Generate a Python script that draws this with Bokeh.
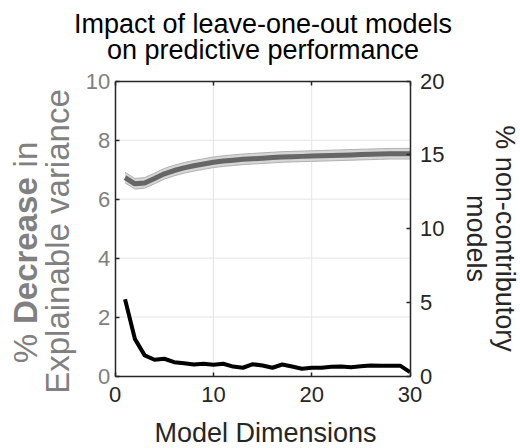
import math
from bokeh.plotting import figure
from bokeh.models import Range1d, LinearAxis, FixedTicker, Label, ColumnDataSource
from bokeh.embed import file_html
from bokeh.resources import INLINE

# ---- data ----
dims = list(range(1, 31))
decrease_mean = [6.73, 6.52, 6.55, 6.70, 6.86, 6.97, 7.06, 7.13, 7.19, 7.25,
                 7.29, 7.32, 7.35, 7.37, 7.39, 7.41, 7.43, 7.44, 7.45, 7.46,
                 7.47, 7.48, 7.49, 7.50, 7.51, 7.52, 7.53, 7.54, 7.54, 7.54]
decrease_sem = [0.18, 0.18, 0.18, 0.18, 0.18, 0.18, 0.18, 0.18, 0.18, 0.18,
                0.18, 0.18, 0.18, 0.18, 0.18, 0.18, 0.18, 0.18, 0.18, 0.18,
                0.18, 0.18, 0.18, 0.18, 0.18, 0.18, 0.18, 0.18, 0.18, 0.18]
noncontrib = [5.20, 2.52, 1.40, 1.10, 1.17, 0.94, 0.87, 0.78, 0.83, 0.76,
              0.83, 0.64, 0.56, 0.80, 0.71, 0.56, 0.78, 0.64, 0.49, 0.56,
              0.56, 0.62, 0.64, 0.60, 0.66, 0.72, 0.70, 0.70, 0.70, 0.26]
x_ticks = [0, 10, 20, 30]
left_ticks = [0, 2, 4, 6, 8, 10]
right_ticks = [0, 5, 10, 15, 20]
x_grid = [10, 20]
y_grid = [2, 4, 6, 8]

title_lines = ["Impact of leave-one-out models", "on predictive performance"]
x_label = "Model Dimensions"
left_label_line1 = [("%", "normal"), ("Decrease", "bold"), ("in", "normal")]
left_label_line2 = "Explainable variance"
right_label_lines = ["% non-contributory", "models"]

# ---- layout (canvas pixels) ----
W, H = 520, 448
BOX_L, BOX_R, BOX_T, BOX_B = 114.7, 409.5, 80.7, 375.5
X0, X1, Y0, Y1, R0, R1 = 0, 30, 0, 10, 0, 20
FONT = "Liberation Sans"
GRAY = "#808080"
DARK = "#262626"

sx = (BOX_R - BOX_L) / (X1 - X0)
sy = (BOX_B - BOX_T) / (Y1 - Y0)
sr = (BOX_B - BOX_T) / (R1 - R0)
x_range = Range1d(X0 - BOX_L / sx, X1 + (W - BOX_R) / sx)
y_range = Range1d(Y0 - (H - BOX_B) / sy, Y1 + BOX_T / sy)
r_range = Range1d(R0 - (H - BOX_B) / sr, R1 + BOX_T / sr)


def cx(px):  # canvas x -> data x
    return X0 + (px - BOX_L) / sx


def cy(py):  # canvas y (from top) -> left data y
    return Y0 + (BOX_B - py) / sy


p = figure(width=W, height=H, x_range=x_range, y_range=y_range, title=None,
           output_backend="svg", toolbar_location=None, min_border=0,
           x_axis_location=None, y_axis_location=None)
p.extra_y_ranges = {"right": r_range}
p.background_fill_color = "white"
p.border_fill_color = "white"
p.outline_line_color = None
for g in p.grid:
    g.visible = False


def make_axis(ticks, bounds, loc, label_color, standoff, **kw):
    ax = LinearAxis(ticker=FixedTicker(ticks=ticks), bounds=bounds, fixed_location=loc, **kw)
    ax.axis_line_color = DARK
    ax.axis_line_width = 1.5
    ax.major_tick_line_color = DARK
    ax.major_tick_line_width = 1.5
    ax.major_tick_in = 4
    ax.major_tick_out = 0
    ax.minor_tick_in = 0
    ax.minor_tick_out = 0
    ax.major_label_text_font = FONT
    ax.major_label_text_font_size = "22px"
    ax.major_label_text_color = label_color
    ax.major_label_standoff = standoff
    return ax


bottom_axis = make_axis(x_ticks, (X0, X1), Y0, DARK, 11)
top_axis = make_axis(x_ticks, (X0, X1), Y1, None, 4)
left_axis = make_axis(left_ticks, (Y0, Y1), X0, GRAY, 5)
right_axis = make_axis(right_ticks, (R0, R1), X1, DARK, 10, y_range_name="right")
p.add_layout(bottom_axis, "below")
p.add_layout(top_axis, "above")
p.add_layout(left_axis, "left")
p.add_layout(right_axis, "right")

# ---- grid lines ----
GRID = "#e4e4e4"
p.segment(x0=x_grid, x1=x_grid, y0=[Y0] * len(x_grid), y1=[Y1] * len(x_grid),
          line_color=GRID, line_width=1)
p.segment(x0=[X0] * len(y_grid), x1=[X1] * len(y_grid), y0=y_grid, y1=y_grid,
          line_color=GRID, line_width=1)

# ---- data ----
lo = [m - s for m, s in zip(decrease_mean, decrease_sem)]
hi = [m + s for m, s in zip(decrease_mean, decrease_sem)]
src = ColumnDataSource(dict(x=dims, mean=decrease_mean, lo=lo, hi=hi, nc=noncontrib))

p.varea(x="x", y1="lo", y2="hi", source=src, fill_color="#d6d6d6")
p.line(x="x", y="lo", source=src, line_color="#b0b0b0", line_width=1)
p.line(x="x", y="hi", source=src, line_color="#b0b0b0", line_width=1)
p.line(x="x", y="mean", source=src, line_color="#666666", line_width=5)
p.line(x="x", y="nc", source=src, line_color="black", line_width=4, y_range_name="right")

# ---- title ----
for txt, mid in zip(title_lines, [23.5, 49.5]):
    p.add_layout(Label(x=cx(262.5), y=cy(mid), text=txt, text_font=FONT,
                       text_font_size="27px", text_color="black",
                       text_align="center", text_baseline="middle"))

# ---- x label ----
p.add_layout(Label(x=cx(265), y=cy(432), text=x_label, text_font=FONT,
                   text_font_size="27px", text_color=DARK,
                   text_align="center", text_baseline="middle"))

# ---- left label (bold word) ----
LFS = 33
GAP = 0.3 * LFS
L1C, L2C = 252, 241
w_pct, w_dec, w_in = 0.889 * LFS, 4.447 * LFS, 0.778 * LFS
total = w_pct + w_dec + w_in + 2 * GAP
start = L1C + total / 2
offsets = [0, w_pct + GAP, w_pct + GAP + w_dec + GAP]
for (txt, style), off in zip(left_label_line1, offsets):
    p.add_layout(Label(x=cx(25), y=cy(start - off), text=txt, text_font=FONT,
                       text_font_size=f"{LFS}px", text_font_style=style, text_color=GRAY,
                       angle=math.pi / 2, text_align="left", text_baseline="middle"))
p.add_layout(Label(x=cx(57), y=cy(L2C), text=left_label_line2, text_font=FONT,
                   text_font_size=f"{LFS}px", text_color=GRAY,
                   angle=math.pi / 2, text_align="center", text_baseline="middle"))

# ---- right label ----
for txt, px in zip(right_label_lines, [504, 475]):
    p.add_layout(Label(x=cx(px), y=cy(238), text=txt, text_font=FONT,
                       text_font_size="27px", text_color=DARK,
                       angle=-math.pi / 2, text_align="center", text_baseline="middle"))

open("out.html", "w").write(file_html(p, INLINE))
